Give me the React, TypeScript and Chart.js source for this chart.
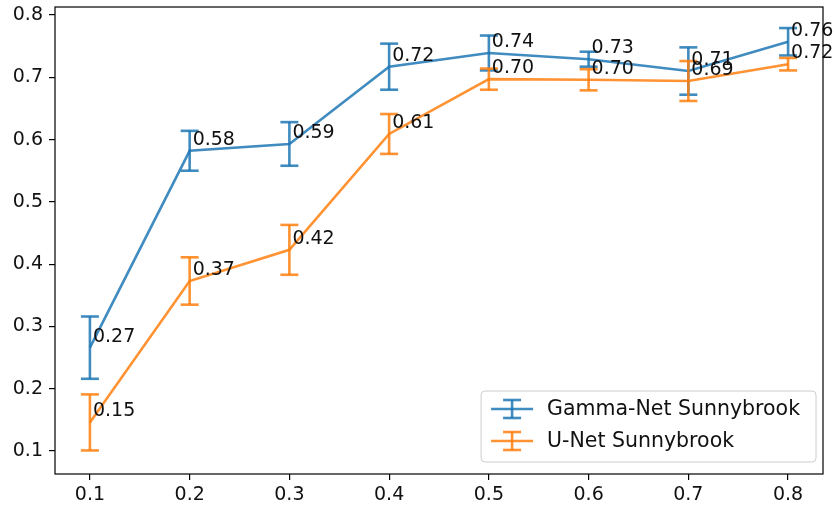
import { useEffect, useRef } from 'react';
import { Chart, registerables } from 'chart.js';

Chart.register(...registerables);

// Threshold values along the x axis
const thresholds = [0.1, 0.2, 0.3, 0.4, 0.5, 0.6, 0.7, 0.8];

// Gamma-Net on Sunnybrook: mean score and its spread
const gammaNetMean = [0.266, 0.582, 0.593, 0.717, 0.739, 0.729, 0.71, 0.757];
const gammaNetErr = [0.05, 0.032, 0.035, 0.037, 0.028, 0.012, 0.038, 0.022];

// U-Net on Sunnybrook: mean score and its spread
const unetMean = [0.146, 0.373, 0.423, 0.609, 0.697, 0.696, 0.694, 0.721];
const unetErr = [0.045, 0.038, 0.04, 0.032, 0.017, 0.017, 0.032, 0.01];

const xTicks = [0.1, 0.2, 0.3, 0.4, 0.5, 0.6, 0.7, 0.8];
const yTicks = [0.1, 0.2, 0.3, 0.4, 0.5, 0.6, 0.7, 0.8];

const seriesNames = ['Gamma-Net Sunnybrook', 'U-Net Sunnybrook'];
const seriesColors = ['rgba(31,119,180,0.85)', 'rgba(255,127,14,0.85)'];
const seriesErrors = [gammaNetErr, unetErr];

const FONT = '"DejaVu Sans", sans-serif';
const TEXT_SIZE = 19;
const LEGEND_SIZE = 20.5;
const LINE_W = 2.6;
const CAP_HALF = 9;

function drawErrorBar(ctx: CanvasRenderingContext2D, x: number, yTop: number, yBot: number, color: string) {
  ctx.save();
  ctx.strokeStyle = color;
  ctx.lineWidth = LINE_W;
  ctx.lineCap = 'butt';
  ctx.beginPath();
  ctx.moveTo(x, yTop);
  ctx.lineTo(x, yBot);
  ctx.stroke();
  ctx.beginPath();
  ctx.moveTo(x - CAP_HALF, yTop);
  ctx.lineTo(x + CAP_HALF, yTop);
  ctx.stroke();
  ctx.beginPath();
  ctx.moveTo(x - CAP_HALF, yBot);
  ctx.lineTo(x + CAP_HALF, yBot);
  ctx.stroke();
  ctx.restore();
}

// Vertical error bars with caps, drawn right after each dataset's line
const errorBarPlugin = {
  id: 'errorBars',
  afterDatasetDraw(chart: any, args: any) {
    const ds = chart.data.datasets[args.index];
    const errs: number[] = ds.errors;
    const yScale = chart.scales.y;
    const xScale = chart.scales.x;
    const ctx = chart.ctx;
    ds.data.forEach((pt: any, i: number) => {
      const px = xScale.getPixelForValue(pt.x);
      const top = yScale.getPixelForValue(pt.y + errs[i]);
      const bot = yScale.getPixelForValue(pt.y - errs[i]);
      drawErrorBar(ctx, px, top, bot, ds.borderColor);
    });
  },
};

// Value annotations, axes frame and the legend box
const overlayPlugin = {
  id: 'overlay',
  afterDraw(chart: any) {
    const ctx: CanvasRenderingContext2D = chart.ctx;
    const { left, right, top, bottom } = chart.chartArea;
    const xScale = chart.scales.x;
    const yScale = chart.scales.y;

    // point value labels
    ctx.save();
    ctx.font = `${TEXT_SIZE}px ${FONT}`;
    ctx.fillStyle = '#111';
    ctx.textAlign = 'left';
    ctx.textBaseline = 'alphabetic';
    chart.data.datasets.forEach((ds: any) => {
      ds.data.forEach((pt: any) => {
        const px = xScale.getPixelForValue(pt.x);
        const py = yScale.getPixelForValue(pt.y);
        ctx.fillText(pt.y.toFixed(2), px + 3, py - 6);
      });
    });
    ctx.restore();

    // frame
    ctx.save();
    ctx.strokeStyle = '#000';
    ctx.lineWidth = 1.2;
    ctx.strokeRect(left, top, right - left, bottom - top);
    ctx.restore();

    // legend
    ctx.save();
    ctx.font = `${LEGEND_SIZE}px ${FONT}`;
    const textW = Math.max(...seriesNames.map((n) => ctx.measureText(n).width));
    const rowH = 32;
    const padL = 10;
    const handleW = 42;
    const gap = 14;
    const padR = 16;
    const boxW = padL + handleW + gap + textW + padR;
    const boxH = rowH * seriesNames.length + 7;
    const bx = right - 7 - boxW;
    const by = bottom - 12 - boxH;
    const r = 4;
    ctx.beginPath();
    ctx.moveTo(bx + r, by);
    ctx.arcTo(bx + boxW, by, bx + boxW, by + boxH, r);
    ctx.arcTo(bx + boxW, by + boxH, bx, by + boxH, r);
    ctx.arcTo(bx, by + boxH, bx, by, r);
    ctx.arcTo(bx, by, bx + boxW, by, r);
    ctx.closePath();
    ctx.fillStyle = 'rgba(255,255,255,0.8)';
    ctx.fill();
    ctx.strokeStyle = '#cccccc';
    ctx.lineWidth = 1;
    ctx.stroke();

    seriesNames.forEach((name, i) => {
      const cy = by + 2 + rowH * i + rowH / 2;
      const hx0 = bx + padL;
      const hx1 = hx0 + handleW;
      const color = seriesColors[i];
      ctx.strokeStyle = color;
      ctx.lineWidth = LINE_W;
      ctx.beginPath();
      ctx.moveTo(hx0, cy);
      ctx.lineTo(hx1, cy);
      ctx.stroke();
      drawErrorBar(ctx, (hx0 + hx1) / 2, cy - 9, cy + 9, color);
      ctx.fillStyle = '#111';
      ctx.textAlign = 'left';
      ctx.textBaseline = 'middle';
      ctx.fillText(name, hx1 + gap, cy + 1);
    });
    ctx.restore();
  },
};

export default function App() {
  const canvasRef = useRef<HTMLCanvasElement | null>(null);

  useEffect(() => {
    if (!canvasRef.current) return;
    const means = [gammaNetMean, unetMean];
    const datasets = means.map((m, s) => ({
      label: seriesNames[s],
      data: thresholds.map((x, i) => ({ x, y: m[i] })),
      errors: seriesErrors[s],
      borderColor: seriesColors[s],
      backgroundColor: seriesColors[s],
      borderWidth: LINE_W,
      pointRadius: 0,
      tension: 0,
      fill: false,
      order: seriesNames.length - s,
    }));

    const tickFont = { family: FONT, size: TEXT_SIZE };

    const chart = new Chart(canvasRef.current, {
      type: 'line',
      data: { datasets } as any,
      options: {
        animation: false,
        responsive: false,
        devicePixelRatio: 1,
        layout: { padding: { left: 0, top: 7, right: 12, bottom: 0 } },
        plugins: { legend: { display: false }, tooltip: { enabled: false } },
        scales: {
          x: {
            type: 'linear',
            min: 0.065,
            max: 0.835,
            afterBuildTicks: (scale: any) => {
              scale.ticks = xTicks.map((v) => ({ value: v }));
            },
            afterFit: (scale: any) => {
              scale.height = 34;
              scale.paddingLeft = 0;
              scale.paddingRight = 0;
            },
            ticks: {
              font: tickFont,
              color: '#111',
              padding: 4,
              maxRotation: 0,
              autoSkip: false,
              callback: (v: any) => Number(v).toFixed(1),
            },
            grid: {
              display: true,
              drawOnChartArea: false,
              drawTicks: true,
              tickLength: 6,
              color: '#000',
              lineWidth: 1.2,
            },
            border: { display: false },
          },
          y: {
            type: 'linear',
            min: 0.0632,
            max: 0.8128,
            afterBuildTicks: (scale: any) => {
              scale.ticks = yTicks.map((v) => ({ value: v }));
            },
            afterFit: (scale: any) => {
              scale.width = 55;
              scale.paddingTop = 0;
              scale.paddingBottom = 0;
            },
            ticks: {
              font: tickFont,
              color: '#111',
              padding: 6,
              autoSkip: false,
              callback: (v: any) => Number(v).toFixed(1),
            },
            grid: {
              display: true,
              drawOnChartArea: false,
              drawTicks: true,
              tickLength: 6,
              color: '#000',
              lineWidth: 1.2,
            },
            border: { display: false },
          },
        },
      } as any,
      plugins: [errorBarPlugin, overlayPlugin],
    });

    return () => chart.destroy();
  }, []);

  return (
    <div style={{ position: 'absolute', left: 0, top: 0, width: 835, height: 508, background: '#fff' }}>
      <canvas ref={canvasRef} width={835} height={508} />
    </div>
  );
}
